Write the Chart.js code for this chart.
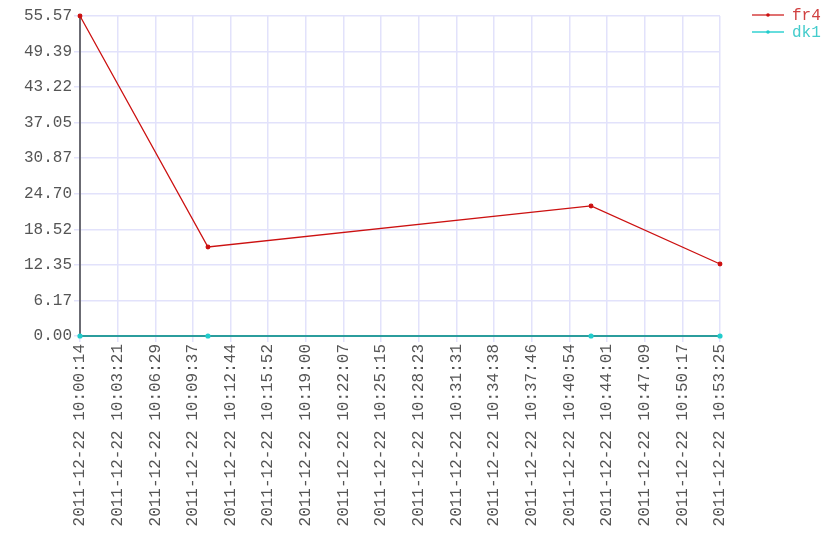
<!DOCTYPE html>
<html>
<head>
<meta charset="utf-8">
<script src="https://cdn.jsdelivr.net/npm/chart.js@4/dist/chart.umd.min.js"></script>
<style>
  html, body { margin: 0; padding: 0; background: #fff; }
  #wrap { width: 840px; height: 560px; }
</style>
</head>
<body>
<div id="wrap"><canvas id="js--chart"></canvas></div>
<script>
// sample times and values
const times = ["2011-12-22 10:00:14", "2011-12-22 10:10:52", "2011-12-22 10:42:42", "2011-12-22 10:53:25"];
const fr4 = [55.57, 15.46, 22.58, 12.50];
const dk1 = [0, 0, 0, 0];

const xTickLabels = ["2011-12-22 10:00:14", "2011-12-22 10:03:21", "2011-12-22 10:06:29", "2011-12-22 10:09:37",
    "2011-12-22 10:12:44", "2011-12-22 10:15:52", "2011-12-22 10:19:00", "2011-12-22 10:22:07",
    "2011-12-22 10:25:15", "2011-12-22 10:28:23", "2011-12-22 10:31:31", "2011-12-22 10:34:38",
    "2011-12-22 10:37:46", "2011-12-22 10:40:54", "2011-12-22 10:44:01", "2011-12-22 10:47:09",
    "2011-12-22 10:50:17", "2011-12-22 10:53:25"];
const yTicks = [0.00, 6.17, 12.35, 18.52, 24.70, 30.87, 37.05, 43.22, 49.39, 55.57];

const toSec = (s) => {
    const hms = s.split(" ")[1].split(":").map(Number);
    return hms[0] * 3600 + hms[1] * 60 + hms[2];
};
const xTickSecs = xTickLabels.map(toSec);
const first = xTickSecs[0];
const last = xTickSecs[xTickSecs.length - 1];
// ticks in the picture are evenly spaced, the labels are rounded
const xTickValues = xTickSecs.map((v, i) => first + (last - first) * i / (xTickSecs.length - 1));

const font = { family: "'Liberation Mono', monospace", size: 16 };
const gridColor = "#e2e2fb";

const legendPlugin = {
    id: "sideLegend",
    afterDraw(chart) {
        const ctx = chart.ctx;
        ctx.save();
        ctx.font = "16px 'Liberation Mono', monospace";
        ctx.textBaseline = "middle";
        chart.data.datasets.forEach((ds, i) => {
            const y = 15 + i * 17;
            ctx.strokeStyle = ds.legendColor;
            ctx.lineWidth = 2;
            ctx.beginPath();
            ctx.moveTo(752, y);
            ctx.lineTo(784, y);
            ctx.stroke();
            ctx.fillStyle = ds.pointBackgroundColor;
            ctx.beginPath();
            ctx.arc(768, y, 1.8, 0, Math.PI * 2);
            ctx.fill();
            ctx.fillStyle = ds.legendText;
            ctx.fillText(ds.label, 792, y + 1);
        });
        ctx.restore();
    }
};

const data = {
    datasets: [
        {
            label: "fr4",
            data: times.map((t, i) => ({ x: toSec(t), y: fr4[i] })),
            borderColor: "#cc1111",
            legendColor: "#e07070",
            legendText: "#d04040",
            pointBackgroundColor: "#cc1111",
            pointBorderColor: "#cc1111",
            borderWidth: 1.3,
            pointRadius: 1.8,
            pointHoverRadius: 1.8,
            clip: false
        },
        {
            label: "dk1",
            data: times.map((t, i) => ({ x: toSec(t), y: dk1[i] })),
            borderColor: "#2b9d9d",
            legendColor: "#66dddd",
            legendText: "#44cccc",
            pointBackgroundColor: "#22cccc",
            pointBorderColor: "#22cccc",
            borderWidth: 2.2,
            pointRadius: 1.5,
            pointHoverRadius: 1.5,
            clip: false
        }
    ]
};

const config = {
    type: "line",
    data: data,
    options: {
        animation: false,
        responsive: true,
        maintainAspectRatio: false,
        layout: { padding: { top: 16, right: 120, left: 0, bottom: 0 } },
        plugins: { legend: { display: false }, tooltip: { enabled: false } },
        scales: {
            x: {
                type: "linear",
                min: first,
                max: last,
                afterBuildTicks: (scale) => { scale.ticks = xTickValues.map((v) => ({ value: v })); },
                afterFit: (scale) => { scale.height = 224; },
                ticks: {
                    autoSkip: false,
                    minRotation: 90,
                    maxRotation: 90,
                    color: "#555",
                    font: font,
                    padding: 2,
                    callback: (v, i) => xTickLabels[i]
                },
                grid: { color: gridColor, lineWidth: 1.5, tickLength: 6 },
                border: { color: "#777", width: 2 }
            },
            y: {
                min: 0,
                max: 55.57,
                afterBuildTicks: (scale) => { scale.ticks = yTicks.map((v) => ({ value: v })); },
                afterFit: (scale) => { scale.width = 80; },
                ticks: {
                    color: "#555",
                    font: font,
                    padding: 2,
                    callback: (v) => v.toFixed(2)
                },
                grid: { color: gridColor, lineWidth: 1.5, tickLength: 6 },
                border: { color: "#6b6b73", width: 2 }
            }
        }
    },
    plugins: [legendPlugin]
};

const chart = new Chart(document.getElementById("js--chart"), config);
</script>
</body>
</html>
